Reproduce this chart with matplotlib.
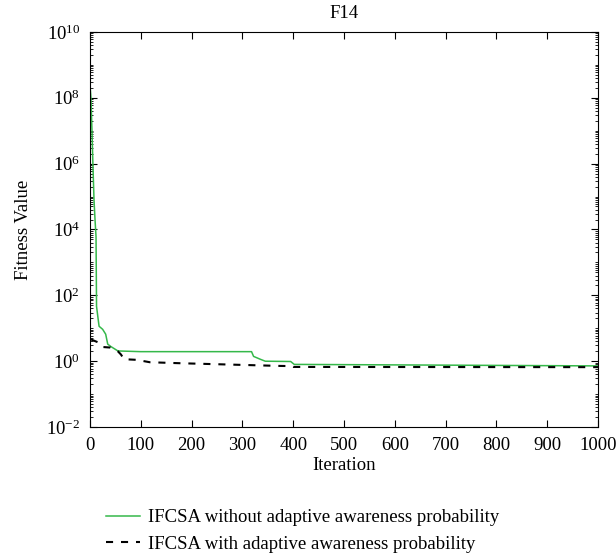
import numpy as np
import matplotlib
matplotlib.use("Agg")
import matplotlib.pyplot as plt
from matplotlib.ticker import LogLocator, NullFormatter, FixedLocator

plt.rcParams['font.family'] = ['Liberation Serif', 'DejaVu Serif']
plt.rcParams['mathtext.fontset'] = 'stix'

# green: without adaptive awareness probability
it_green = [0, 2, 4, 6, 8, 10, 12, 13, 17, 18, 25, 31, 35, 41, 55,
            100, 318, 322, 335, 345, 395, 402, 1000]
val_green = [2.5e8, 1e8, 1e7, 8e5, 8e4, 2e4, 6e3, 46, 15, 11.5, 9.3, 6.6, 3.3,
             2.8, 2.05, 1.95, 1.95, 1.4, 1.15, 1.0, 0.98, 0.8, 0.72]

# black dashed: with adaptive awareness probability
it_black = [2, 8, 15, 25, 40, 55, 61, 67, 92, 118, 176, 372, 396, 400, 1000]
val_black = [4.6, 4.2, 3.8, 2.7, 2.6, 2.0, 1.6, 1.15, 1.1, 0.93, 0.87, 0.72, 0.71, 0.67, 0.66]

fs = 13.5

fig = plt.figure(figsize=(6.16, 5.59), dpi=100)
ax = fig.add_axes([0.146, 0.236, 0.825, 0.707])

ax.plot(it_green, val_green, color='#35b84a', lw=1.1,
        label='IFCSA without adaptive awareness probability')
ax.plot(it_black, val_black, color='black', lw=1.5, ls=(0, (3.4, 3.8)),
        label='IFCSA with adaptive awareness probability')

ax.set_yscale('log')
ax.set_xlim(0, 1000)
ax.set_ylim(1e-2, 1e10)
ax.set_xticks(range(0, 1001, 100))
ax.yaxis.set_major_locator(FixedLocator([10.0**k for k in range(-2, 11, 2)]))
ax.yaxis.set_minor_locator(LogLocator(base=10, subs=np.arange(1, 10), numticks=100))
ax.yaxis.set_minor_formatter(NullFormatter())
ax.tick_params(direction='in', top=True, right=True, labelsize=fs, length=5, pad=7)
ax.tick_params(which='minor', direction='in', right=True, length=2.5)

ax.set_title('F14', fontsize=fs, pad=10)
ax.set_xlabel('Iteration', fontsize=fs, labelpad=2)
ax.set_ylabel('Fitness Value', fontsize=fs, labelpad=10)

fig.legend(loc='lower left', bbox_to_anchor=(0.145, -0.019), frameon=False,
           fontsize=fs, handlelength=1.8, handletextpad=0.45, labelspacing=0.5)

fig.savefig('out.png', dpi=100)
